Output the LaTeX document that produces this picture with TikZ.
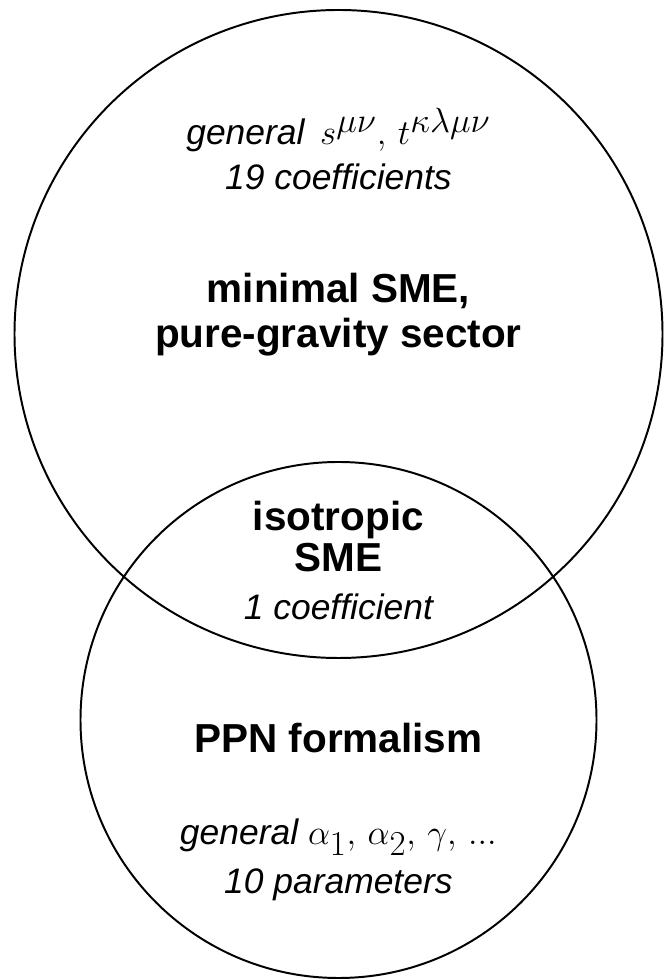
\documentclass[tikz,border=0pt]{standalone}
\usepackage{amsmath, amssymb}
\usepackage{fontspec}
\setmainfont{Liberation Sans}
\usepackage{tikz}
\newcommand{\bigmath}[1]{{\fontsize{34}{37}\selectfont$#1$}}

\begin{document}
\begin{tikzpicture}[
    head/.style = {font = \bfseries\fontsize{28.8}{32}\selectfont, anchor = base},
    note/.style = {font = \itshape\fontsize{25.2}{28}\selectfont, anchor = base},
    ring/.style = {line width = 1.4pt}
]
\useasboundingbox (0,0) rectangle (16.8,24.475);

%the two sets
\draw[ring] (8.4625,16.125) circle (8.1);
\draw[ring] (8.4625,6.475) circle (6.45);

%upper circle: minimal SME
\node[note] (smegen) at (8.46,20.85) {general\, \bigmath{s^{\mu\nu},\, t^{\kappa\lambda\mu\nu}}};
\node[note] (smenum) at (8.46,19.725) {19 coefficients};
\node[head] (smeA) at (8.46,16.9) {minimal SME,};
\node[head] (smeB) at (8.46,15.775) {pure-gravity sector};

%overlap
\node[head] (isoA) at (8.46,11.2) {isotropic};
\node[head] (isoB) at (8.46,10.175) {SME};
\node[note] (isonum) at (8.46,8.975) {1 coefficient};

%lower circle: PPN
\node[head] (ppn) at (8.46,5.65) {PPN formalism};
\node[note] (ppngen) at (8.46,3.35) {general \bigmath{\alpha_1,\, \alpha_2,\, \gamma,\, ...}};
\node[note] (ppnnum) at (8.46,2.125) {10 parameters};
\end{tikzpicture}
\end{document}
